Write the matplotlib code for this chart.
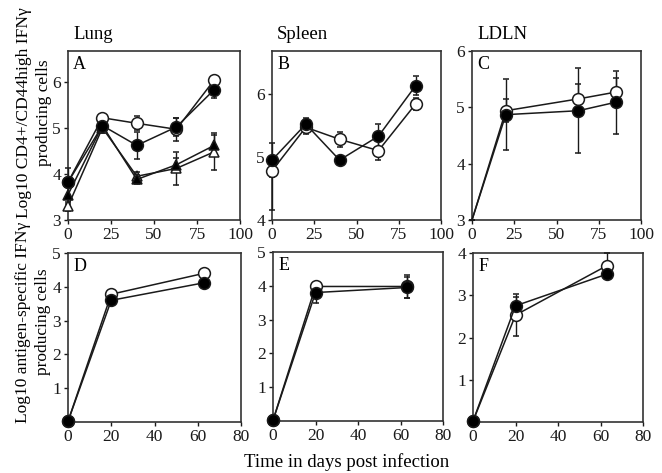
import matplotlib.pyplot as plt
import numpy as np

plt.rcParams['font.family'] = ['Liberation Serif', 'DejaVu Serif']
plt.rcParams['font.size'] = 12.5

# ---- data ----
# top row: Log10 CD4+/CD44high IFNg producing cells
days_top = [0, 20, 40, 63, 85]
lung_closed = [3.82, 5.05, 4.62, 5.02, 5.83]
lung_closed_err = [0.3, 0.1, 0.3, 0.2, 0.18]
lung_open = [3.82, 5.22, 5.1, 4.97, 6.04]
lung_open_err = [0.1, 0.08, 0.15, 0.25, 0.05]
lung_tri_closed = [3.55, 5.05, 3.88, 4.2, 4.62]
lung_tri_closed_err = [0.2, 0.1, 0.1, 0.15, 0.22]
lung_tri_open = [3.3, 5.0, 3.95, 4.12, 4.48]
lung_tri_open_err = [0.1, 0.1, 0.1, 0.35, 0.4]

spleen_closed = [4.95, 5.52, 4.95, 5.33, 6.13]
spleen_closed_err = [0.27, 0.1, 0.05, 0.2, 0.15]
spleen_open = [4.78, 5.47, 5.28, 5.1, 5.84]
spleen_open_err_lo = [0.62, 0.1, 0.12, 0.15, 0.1]
spleen_open_err_hi = [0.1, 0.1, 0.12, 0.15, 0.1]

days_ldln = [0, 20, 63, 85]
ldln_closed = [3.0, 4.87, 4.94, 5.09]
ldln_closed_err = [0.0, 0.63, 0.75, 0.56]
ldln_open = [3.0, 4.94, 5.15, 5.27]
ldln_open_err = [0.0, 0.2, 0.27, 0.25]

# bottom row: Log10 antigen-specific IFNg producing cells
days_bot = [0, 20, 63]
lung_as_closed = [0.02, 3.6, 4.12]
lung_as_closed_err = [0.0, 0.12, 0.05]
lung_as_open = [0.02, 3.78, 4.4]
lung_as_open_err = [0.0, 0.05, 0.05]

spleen_as_closed = [0.02, 3.8, 3.95]
spleen_as_closed_err = [0.0, 0.3, 0.3]
spleen_as_open = [0.02, 3.98, 3.98]
spleen_as_open_err = [0.0, 0.05, 0.35]

ldln_as_closed = [0.02, 2.75, 3.5]
ldln_as_closed_err = [0.0, 0.22, 0.05]
ldln_as_open = [0.02, 2.53, 3.7]
ldln_as_open_err = [0.0, 0.5, 0.3]

fig = plt.figure(figsize=(6.62, 4.73), dpi=100)


def make_ax(left, top, right, bottom):
    W, H = 662, 473
    return fig.add_axes([left / W, 1 - bottom / H, (right - left) / W, (bottom - top) / H])


def series(ax, x, y, err, marker, face, markevery=None):
    ms = 7.5 if marker == '^' else 8.5
    ax.errorbar(x, y, yerr=err, color='#1a1a1a', lw=1.1, marker=marker, ms=ms,
                mfc=face, mec='#1a1a1a', mew=1.1, capsize=2.5, elinewidth=1.0,
                markevery=markevery, clip_on=False, zorder=3)


def style(ax, xlim, xticks, ylim, yticks, letter):
    ax.set_xlim(*xlim)
    ax.set_ylim(*ylim)
    ax.set_xticks(xticks)
    ax.set_yticks(yticks)
    ax.tick_params(direction='out', length=3, width=1, colors='#1a1a1a', pad=2)
    for s in ax.spines.values():
        s.set_linewidth(1.2)
        s.set_color('#333333')
    ax.text(0.03, 0.97, letter, transform=ax.transAxes, ha='left', va='top', fontsize=13)


axA = make_ax(68, 51, 240, 220)
series(axA, days_top, lung_tri_open, lung_tri_open_err, '^', 'white')
series(axA, days_top, lung_tri_closed, lung_tri_closed_err, '^', 'black')
series(axA, days_top, lung_open, lung_open_err, 'o', 'white')
series(axA, days_top, lung_closed, lung_closed_err, 'o', 'black')
style(axA, (0, 100), [0, 25, 50, 75, 100], (3, 6.67), [3, 4, 5, 6], 'A')

axB = make_ax(272, 51, 441, 220)
series(axB, days_top, spleen_open, [spleen_open_err_lo, spleen_open_err_hi], 'o', 'white')
series(axB, days_top, spleen_closed, spleen_closed_err, 'o', 'black')
style(axB, (0, 100), [0, 25, 50, 75, 100], (4, 6.68), [4, 5, 6], 'B')

axC = make_ax(472, 51, 641, 220)
series(axC, days_ldln, ldln_open, ldln_open_err, 'o', 'white', markevery=[1, 2, 3])
series(axC, days_ldln, ldln_closed, ldln_closed_err, 'o', 'black', markevery=[1, 2, 3])
style(axC, (0, 100), [0, 25, 50, 75, 100], (3, 6), [3, 4, 5, 6], 'C')

axD = make_ax(68, 253, 241, 422)
series(axD, days_bot, lung_as_open, lung_as_open_err, 'o', 'white')
series(axD, days_bot, lung_as_closed, lung_as_closed_err, 'o', 'black')
style(axD, (0, 80), [0, 20, 40, 60, 80], (0, 5), [1, 2, 3, 4, 5], 'D')

axE = make_ax(273, 252, 443, 421)
series(axE, days_bot, spleen_as_open, spleen_as_open_err, 'o', 'white')
series(axE, days_bot, spleen_as_closed, spleen_as_closed_err, 'o', 'black')
style(axE, (0, 80), [0, 20, 40, 60, 80], (0, 5), [1, 2, 3, 4, 5], 'E')

axF = make_ax(473, 253, 643, 422)
series(axF, days_bot, ldln_as_open, ldln_as_open_err, 'o', 'white')
series(axF, days_bot, ldln_as_closed, ldln_as_closed_err, 'o', 'black')
style(axF, (0, 80), [0, 20, 40, 60, 80], (0, 4), [1, 2, 3, 4], 'F')

# tissue titles
for ax, name in [(axA, 'Lung'), (axB, 'Spleen'), (axC, 'LDLN')]:
    ax.text(0.03, 1.05, name, transform=ax.transAxes, ha='left', va='bottom', fontsize=13.5)

fig.text(34 / 662, 1 - 113 / 473, 'Log10 CD4+/CD44high IFN\u03b3\nproducing cells',
         rotation=90, ha='center', va='center', multialignment='center',
         fontsize=12.5, linespacing=1.3)
fig.text(33 / 662, 1 - 322 / 473, 'Log10 antigen-specific IFN\u03b3\nproducing cells',
         rotation=90, ha='center', va='center', multialignment='center',
         fontsize=12.5, linespacing=1.3)
fig.text(347 / 662, 1 - 462 / 473, 'Time in days post infection',
         ha='center', va='center', fontsize=13.5)

fig.savefig('out.png', dpi=100)
